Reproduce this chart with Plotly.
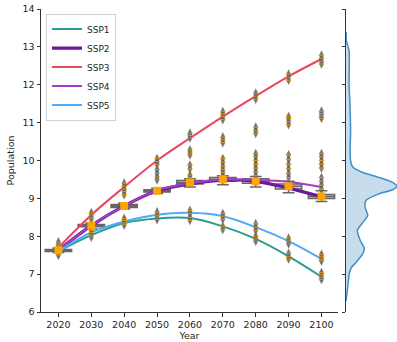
import plotly.graph_objects as go

years = [2020, 2030, 2040, 2050, 2060, 2070, 2080, 2090, 2100]

ssp1 = [7.60, 8.03, 8.35, 8.47, 8.48, 8.26, 7.93, 7.47, 6.93]
ssp2 = [7.63, 8.28, 8.80, 9.20, 9.38, 9.48, 9.45, 9.27, 9.04]
ssp3 = [7.70, 8.56, 9.30, 10.00, 10.59, 11.16, 11.70, 12.22, 12.68]
ssp4 = [7.63, 8.28, 8.80, 9.21, 9.40, 9.50, 9.49, 9.44, 9.30]
ssp5 = [7.60, 8.10, 8.39, 8.57, 8.62, 8.53, 8.24, 7.87, 7.40]

box_q1 = [7.60, 8.25, 8.76, 9.17, 9.38, 9.45, 9.40, 9.25, 9.00]
box_median = [7.63, 8.28, 8.80, 9.20, 9.42, 9.50, 9.45, 9.32, 9.05]
box_q3 = [7.65, 8.31, 8.84, 9.23, 9.47, 9.55, 9.52, 9.38, 9.10]
box_low = [7.57, 8.20, 8.72, 9.13, 9.30, 9.36, 9.30, 9.15, 8.92]
box_high = [7.69, 8.35, 8.88, 9.27, 9.52, 9.60, 9.58, 9.45, 9.20]

points_2020 = [7.50, 7.55, 7.58, 7.62, 7.66, 7.70, 7.75, 7.80, 7.85]
points_2030 = [7.98, 8.03, 8.10, 8.15, 8.45, 8.50, 8.56, 8.62]
points_2040 = [8.30, 8.35, 8.42, 8.47, 9.10, 9.18, 9.25, 9.32, 9.40]
points_2050 = [8.44, 8.50, 8.56, 8.64, 9.49, 9.56, 9.66, 9.76, 9.90, 9.97, 10.05]
points_2060 = [8.42, 8.50, 8.60, 8.68, 9.55, 9.62, 9.78, 9.88, 10.15, 10.22,
               10.28, 10.60, 10.66, 10.72]
points_2070 = [8.18, 8.26, 8.45, 8.53, 8.60, 9.60, 9.68, 9.76, 9.85, 9.95,
               10.05, 10.47, 10.55, 10.62, 11.08, 11.16, 11.22, 11.29]
points_2080 = [7.87, 7.93, 8.00, 8.15, 8.24, 8.33, 9.60, 9.70, 9.80, 9.90,
               10.00, 10.10, 10.18, 10.72, 10.80, 10.88, 11.62, 11.70, 11.78]
points_2090 = [7.40, 7.47, 7.55, 7.80, 7.87, 7.95, 9.55, 9.65, 9.78, 9.90,
               10.03, 10.15, 10.95, 11.03, 11.10, 11.16, 12.12, 12.20, 12.28]
points_2100 = [6.86, 6.92, 6.98, 7.04, 7.35, 7.40, 7.46, 7.52, 9.25, 9.35,
               9.45, 9.55, 9.80, 9.90, 10.00, 10.10, 10.18, 11.12, 11.18,
               11.24, 11.30, 12.55, 12.62, 12.70, 12.78]

kde_population = [6.3, 6.58, 7.03, 7.19, 7.28, 7.54, 7.68, 7.90, 8.16, 8.38,
                  8.55, 8.77, 8.95, 9.12, 9.22, 9.32, 9.43, 9.56, 9.69, 9.82,
                  9.96, 10.26, 10.70, 11.40, 12.00, 12.90, 13.16, 13.4]
kde_density = [0.0, 1.3, 3.3, 5.7, 9.0, 16.7, 18.3, 14.0, 11.3, 17.3,
               21.7, 19.0, 20.0, 33.0, 46.0, 51.0, 46.0, 32.0, 16.0, 7.0,
               4.7, 4.0, 4.5, 4.0, 3.0, 3.0, 0.3, 0.0]

series_names = ["SSP1", "SSP2", "SSP3", "SSP4", "SSP5"]
series_values = [ssp1, ssp2, ssp3, ssp4, ssp5]
series_colors = ["#2a9d8f", "#6a1b9a", "#e8475f", "#a43cc4", "#4dabf7"]
series_widths = [2, 3.2, 2, 2, 2]

all_points = [points_2020, points_2030, points_2040, points_2050, points_2060,
              points_2070, points_2080, points_2090, points_2100]

fig = go.Figure()

# boxes
fig.add_trace(go.Box(
    x=years, q1=box_q1, median=box_median, q3=box_q3,
    lowerfence=box_low, upperfence=box_high,
    width=8, whiskerwidth=0.45,
    fillcolor="rgba(200,200,200,0.7)",
    line=dict(color="#666666", width=1.5),
    showlegend=False, hoverinfo="skip", boxpoints=False,
))

# lines
for name, vals, col, w in zip(series_names, series_values, series_colors, series_widths):
    fig.add_trace(go.Scatter(
        x=years, y=vals, mode="lines", name=name,
        line=dict(color=col, width=w, shape="spline"),
    ))

# scatter points
px, py = [], []
for yr, pts in zip(years, all_points):
    px += [yr] * len(pts)
    py += pts
fig.add_trace(go.Scatter(
    x=px, y=py, mode="markers", showlegend=False, hoverinfo="skip",
    marker=dict(symbol="diamond-tall", size=7, color="rgba(100,100,100,0.85)",
                line=dict(width=0)),
))
fig.add_trace(go.Scatter(
    x=px, y=py, mode="markers", showlegend=False, hoverinfo="skip",
    marker=dict(symbol="line-ew", size=4, color="rgba(0,0,0,0)",
                line=dict(width=1, color="rgba(255,165,0,0.75)")),
))
# median markers
fig.add_trace(go.Scatter(
    x=years, y=box_median, mode="markers", showlegend=False, hoverinfo="skip",
    marker=dict(symbol="square", size=8, color="#ffa500", line=dict(width=0)),
))

# marginal KDE
fig.add_trace(go.Scatter(
    x=kde_density, y=kde_population, mode="lines", showlegend=False,
    xaxis="x2", yaxis="y2", fill="tozerox",
    fillcolor="rgba(31,119,180,0.25)",
    line=dict(color="#3f8fc9", width=1.5, shape="spline", smoothing=0.6),
))

axis_common = dict(showgrid=False, zeroline=False, showline=True,
                   linecolor="#333333", linewidth=1, ticks="outside",
                   ticklen=3.5, tickcolor="#333333",
                   tickfont=dict(size=9.5, color="#262626"))

fig.update_layout(
    width=397, height=342,
    margin=dict(l=41, r=0, t=9, b=30),
    paper_bgcolor="white", plot_bgcolor="white",
    font=dict(family="DejaVu Sans", size=9.5, color="#262626"),
    xaxis=dict(domain=[0, 0.834], range=[2014.7, 2105], tickvals=years,
               title=dict(text="Year", standoff=2, font=dict(size=9.5)),
               **axis_common),
    yaxis=dict(range=[6, 14], tickvals=list(range(6, 15)),
               title=dict(text="Population", standoff=6, font=dict(size=9.5)),
               **axis_common),
    xaxis2=dict(domain=[0.857, 1.0], range=[0, 51], visible=False,
                anchor="y2"),
    yaxis2=dict(anchor="x2", range=[6, 14], tickvals=list(range(6, 15)),
                showticklabels=False, **axis_common),
    legend=dict(x=0.014, y=0.985, xanchor="left", yanchor="top",
                bgcolor="rgba(255,255,255,0.9)", bordercolor="#d0d0d0",
                borderwidth=1, font=dict(size=9), tracegroupgap=0,
                itemwidth=30),
)

fig.write_html("out.html",
               config={"displayModeBar": False},
               post_script="document.body.style.margin='0px';"
                           "document.body.style.padding='0px';")
